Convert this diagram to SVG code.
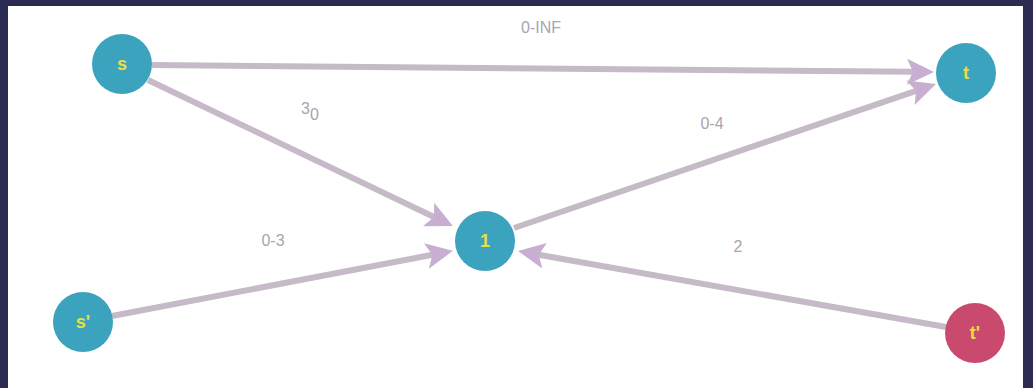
<svg xmlns="http://www.w3.org/2000/svg" width="1033" height="388" viewBox="0 0 1033 388">
<style>
.edge{stroke:#c6b9c8;stroke-width:6;fill:none;marker-end:url(#arr)}
.node{stroke:none}
.teal{fill:#3ba3bd}
.red{fill:#c94a6e}
.nl{font-family:"Liberation Sans",Arial,sans-serif;font-size:18px;font-weight:bold;fill:#e8e040;text-anchor:middle}
.el{font-family:"Liberation Sans",Arial,sans-serif;font-size:16px;fill:#a9a5ab;text-anchor:middle}
</style>
<defs>
<marker id="arr" markerUnits="userSpaceOnUse" markerWidth="30" markerHeight="30" refX="6" refY="13" orient="auto" overflow="visible">
<path d="M0,0 L27,13 L0,26 L6,13 z" fill="#c8aed0"/>
</marker>
</defs>
<rect x="0" y="0" width="1033" height="388" fill="#2c2b52"/>
<rect x="8" y="6" width="1015" height="382" fill="#ffffff"/>
<g id="connectors">
<line class="edge" x1="152" y1="65" x2="913" y2="71.8"/>
<line class="edge" x1="148" y1="80" x2="434" y2="217"/>
<line class="edge" x1="112" y1="316" x2="432.3" y2="254.8"/>
<line class="edge" x1="514" y1="228" x2="916.1" y2="90.8"/>
<line class="edge" x1="946" y1="327" x2="538.7" y2="254.7"/>
<text class="el" x="541" y="33">0-INF</text>
<text class="el" x="310" y="114">3<tspan dy="6">0</tspan></text>
<text class="el" x="712" y="129">0-4</text>
<text class="el" x="273" y="246">0-3</text>
<text class="el" x="738" y="252">2</text>
</g>
<g id="node-s"><circle class="node teal" cx="122" cy="64" r="30"/><text class="nl" x="122" y="70">s</text></g>
<g id="node-t"><circle class="node teal" cx="966" cy="73" r="30"/><text class="nl" x="966" y="79">t</text></g>
<g id="node-1"><circle class="node teal" cx="485" cy="241" r="30"/><text class="nl" x="485" y="247">1</text></g>
<g id="node-s2"><circle class="node teal" cx="83" cy="322" r="30"/><text class="nl" x="83" y="328">s'</text></g>
<g id="node-t2"><circle class="node red" cx="975" cy="333" r="30"/><text class="nl" x="975" y="339">t'</text></g>
</svg>
